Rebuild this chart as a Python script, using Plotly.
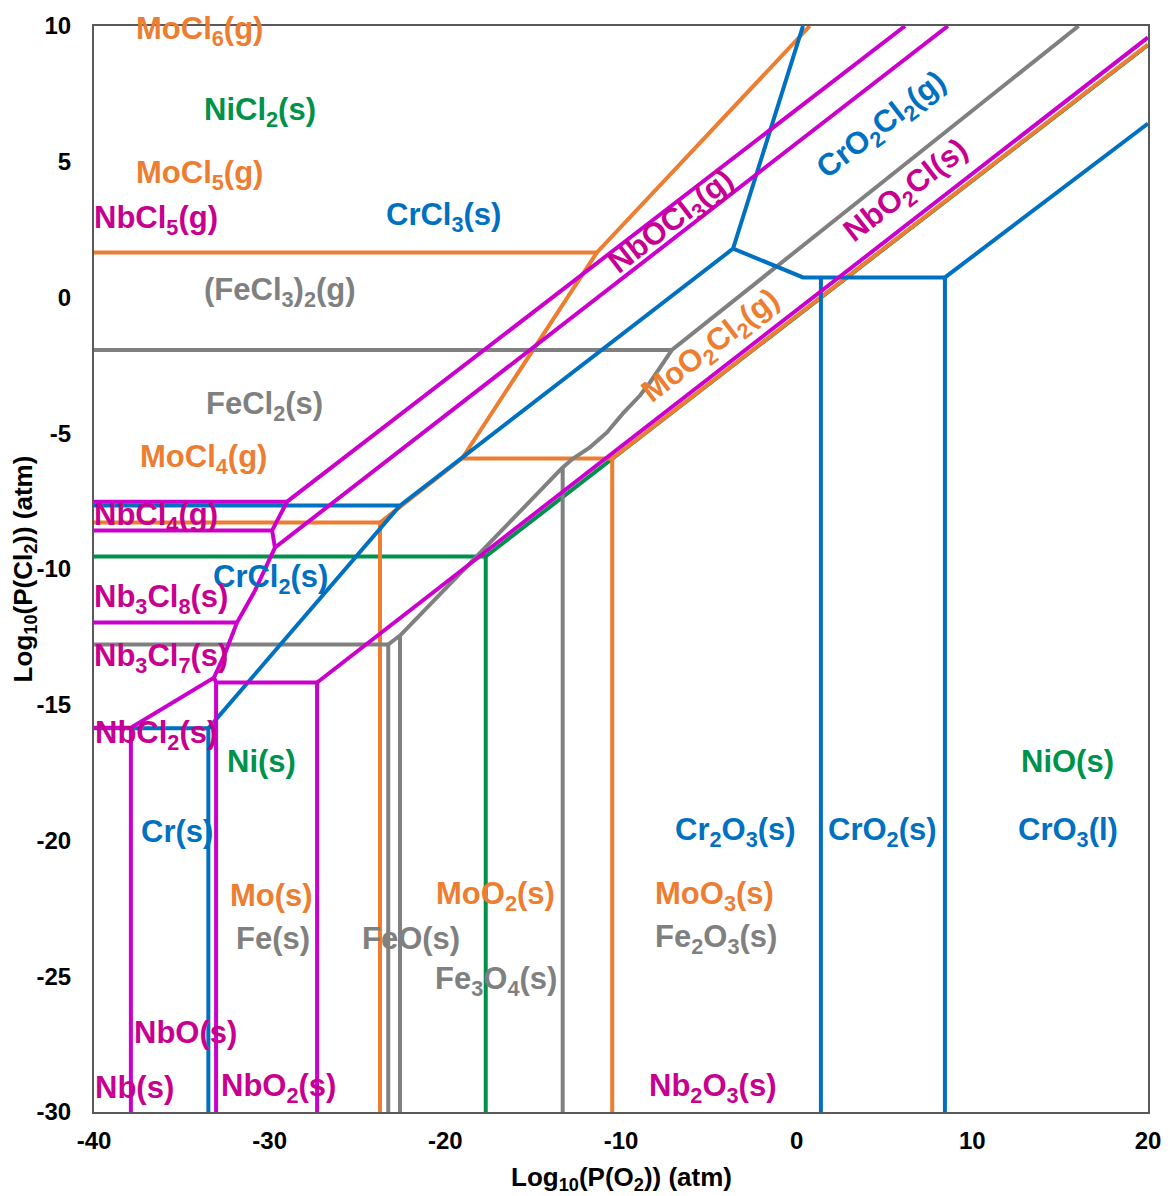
import plotly.graph_objects as go

# ---------------- data (log10 P(O2), log10 P(Cl2)) ----------------
# None separates polyline segments of each element's boundaries
ni_x = [-40, -17.7, -17.7, None, -17.7, 20]
ni_y = [-9.54, -9.54, -30, None, -9.54, 9.30]

mo_x = [-40, -11.37, None,
        -40, -23.72, -23.72, None,
        -23.72, -19.05, -11.37, 0.75, None,
        -19.05, -10.5, -10.5, None,
        -10.5, 20]
mo_y = [1.66, 1.66, None,
        -8.29, -8.29, -30, None,
        -8.29, -5.93, 1.66, 10, None,
        -5.93, -5.93, -30, None,
        -5.93, 9.32]

fe_x = [-40, -7.10, None,
        -40, -23.25, -23.25, None,
        -23.25, -22.58, -22.58, None,
        -22.58, -13.32, -13.32, None,
        -13.32, -12.73, -11.77, -10.80, -9.89, -8.92, -8.35, -7.78, -7.10, 16.05]
fe_y = [-1.93, -1.93, None,
        -12.78, -12.78, -30, None,
        -12.78, -12.45, -30, None,
        -12.45, -6.26, -30, None,
        -6.26, -5.93, -5.52, -4.97, -4.27, -3.61, -3.13, -2.58, -1.93, 10]

cr_x = [-40, -33.49, -33.49, None,
        -33.49, -22.58, None,
        -40, -22.58, -3.62, 0.36, None,
        -3.62, 0.36, 8.44, 20, None,
        1.38, 1.38, None,
        8.44, 8.44]
cr_y = [-15.87, -15.87, -30, None,
        -15.87, -7.66, None,
        -7.66, -7.66, 1.80, 10, None,
        1.80, 0.74, 0.74, 6.41, None,
        -30, 0.74, None,
        -30, 0.74]

nb_x = [-40, -29.01, 6.17, None,
        -29.01, -29.86, -40, None,
        -29.86, -29.70, 8.61, None,
        -29.70, -30.83, -31.86, -32.54, -33.17, -37.9, -40, None,
        -31.86, -40, None,
        -33.17, -33.05, -33.05, None,
        -33.05, -27.3, -27.3, None,
        -27.3, 20, None,
        -37.9, -37.9]
nb_y = [-7.52, -7.52, 10, None,
        -7.52, -8.58, -8.58, None,
        -8.58, -9.21, 10, None,
        -9.21, -10.79, -11.97, -13.11, -14.0, -15.85, -15.85, None,
        -11.97, -11.97, None,
        -14.0, -14.18, -30, None,
        -14.18, -14.18, -30, None,
        -14.18, 9.58, None,
        -15.85, -30]

# axis ticks
x_ticks = [-40, -30, -20, -10, 0, 10, 20]
x_tick_text = ["-40", "-30", "-20", "-10", "0", "10", "20"]
y_ticks = [-30, -25, -20, -15, -10, -5, 0, 5, 10]
y_tick_text = ["-30", "-25", "-20", "-15", "-10", "-5", "0", "5", "10"]

# labels
label_text = ["MoCl<sub>6</sub>(g)", "MoCl<sub>5</sub>(g)", "MoCl<sub>4</sub>(g)", "Mo(s)",
              "MoO<sub>2</sub>(s)", "MoO<sub>3</sub>(s)",
              "NiCl<sub>2</sub>(s)", "Ni(s)", "NiO(s)",
              "CrCl<sub>3</sub>(s)", "CrCl<sub>2</sub>(s)", "Cr(s)", "Cr<sub>2</sub>O<sub>3</sub>(s)",
              "CrO<sub>2</sub>(s)", "CrO<sub>3</sub>(l)",
              "(FeCl<sub>3</sub>)<sub>2</sub>(g)", "FeCl<sub>2</sub>(s)", "Fe(s)", "FeO(s)",
              "Fe<sub>3</sub>O<sub>4</sub>(s)", "Fe<sub>2</sub>O<sub>3</sub>(s)",
              "NbCl<sub>5</sub>(g)", "NbCl<sub>4</sub>(g)", "Nb<sub>3</sub>Cl<sub>8</sub>(s)",
              "Nb<sub>3</sub>Cl<sub>7</sub>(s)", "NbCl<sub>2</sub>(s)", "NbO(s)", "Nb(s)",
              "NbO<sub>2</sub>(s)", "Nb<sub>2</sub>O<sub>3</sub>(s)"]
label_x = [-33.97, -33.97, -33.74, -29.87, -17.12, -4.65,
           -30.55, -30.49, 15.44,
           -20.13, -29.98, -35.28, -3.51, 4.86, 15.44,
           -29.41, -30.32, -29.81, -21.95, -17.12, -4.59,
           -36.47, -36.47, -36.19, -36.19, -36.47, -34.82, -37.72, -29.47, -4.82]
label_y = [9.83, 4.53, -5.93, -22.03, -22.03, -22.03,
           6.85, -17.09, -17.09,
           2.95, -10.35, -19.67, -19.67, -19.67, -19.67,
           0.22, -3.98, -23.61, -23.61, -25.19, -23.61,
           2.87, -8.10, -11.09, -13.26, -16.10, -27.07, -29.10, -29.10, -29.10]
label_el = ["Mo"] * 6 + ["Ni"] * 3 + ["Cr"] * 6 + ["Fe"] * 6 + ["Nb"] * 9

rot_text = ["MoO<sub>2</sub>Cl<sub>2</sub>(g)", "NbOCl<sub>3</sub>(g)",
            "CrO<sub>2</sub>Cl<sub>2</sub>(g)", "NbO<sub>2</sub>Cl(s)"]
rot_x = [-4.82, -7.10, 4.91, 6.28]
rot_y = [-1.84, 2.76, 6.30, 3.87]
rot_el = ["Mo", "Nb", "Cr", "Nb"]

x_title = "Log<sub>10</sub>(P(O<sub>2</sub>)) (atm)"
y_title = "Log<sub>10</sub>(P(Cl<sub>2</sub>)) (atm)"

# ---------------- styling ----------------
line_col = {"Ni": "#00924A", "Mo": "#ED7D31", "Fe": "#808080", "Cr": "#0070C0", "Nb": "#CC00CC"}
text_col = {"Ni": "#00924A", "Mo": "#ED7D31", "Fe": "#808080", "Cr": "#0070C0", "Nb": "#C8008F"}
FONT = "Liberation Sans, Arial, sans-serif"
LABEL_SIZE = 31

fig = go.Figure()
for el, xs, ys in [("Ni", ni_x, ni_y), ("Mo", mo_x, mo_y), ("Fe", fe_x, fe_y),
                   ("Cr", cr_x, cr_y), ("Nb", nb_x, nb_y)]:
    fig.add_trace(go.Scatter(x=xs, y=ys, mode="lines", connectgaps=False,
                             line=dict(color=line_col[el], width=4),
                             showlegend=False, hoverinfo="skip"))

for t, x, y, el in zip(label_text, label_x, label_y, label_el):
    fig.add_annotation(x=x, y=y, text=t, showarrow=False, xanchor="center", yanchor="middle",
                       font=dict(family=FONT, size=LABEL_SIZE, color=text_col[el], weight="bold"))

for t, x, y, el in zip(rot_text, rot_x, rot_y, rot_el):
    fig.add_annotation(x=x, y=y, text=t, showarrow=False, textangle=-37.7,
                       xanchor="center", yanchor="middle",
                       font=dict(family=FONT, size=LABEL_SIZE, color=text_col[el], weight="bold"))

# x-axis title as a paper annotation so it can sit lower than the axis-title constraint allows
fig.add_annotation(xref="paper", yref="paper", x=0.5, y=0, yshift=-66,
                   text=x_title, showarrow=False, xanchor="center", yanchor="middle",
                   font=dict(family=FONT, size=26, color="black", weight="bold"))

# page body has an 8px margin, so the figure is sized to fit the 1170x1196 window
fig.update_layout(
    width=1162, height=1188,
    margin=dict(l=86, r=22, t=18, b=84),
    paper_bgcolor="white", plot_bgcolor="white",
    font=dict(family=FONT, color="black"),
    xaxis=dict(range=[-40, 20], tickvals=x_ticks, ticktext=x_tick_text,
               showgrid=False, zeroline=False, automargin=False,
               showline=True, mirror=True, linecolor="#595959", linewidth=2,
               ticks="", ticklabelstandoff=6,
               tickfont=dict(family=FONT, size=24, color="black", weight="bold")),
    yaxis=dict(range=[-30, 10], tickvals=y_ticks, ticktext=y_tick_text,
               showgrid=False, zeroline=False, automargin=False,
               showline=True, mirror=True, linecolor="#595959", linewidth=2,
               ticks="", ticklabelstandoff=16,
               tickfont=dict(family=FONT, size=24, color="black", weight="bold"),
               title=dict(text=y_title, standoff=6,
                          font=dict(family=FONT, size=26, color="black", weight="bold"))),
)

fig.write_html("out.html")
